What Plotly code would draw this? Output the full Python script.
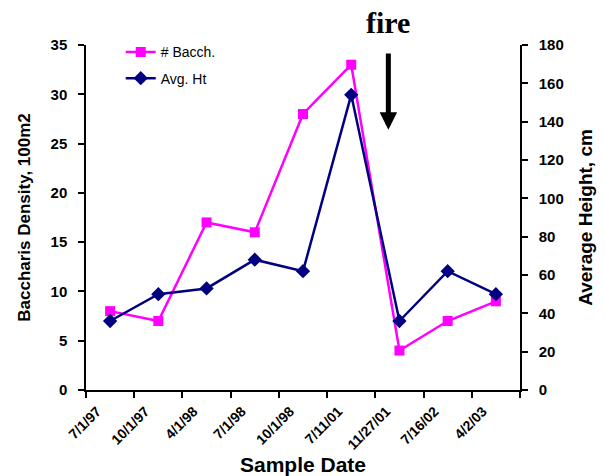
import plotly.graph_objects as go

dates = ["7/1/97", "10/1/97", "4/1/98", "7/1/98", "10/1/98", "7/11/01", "11/27/01", "7/16/02", "4/2/03"]
bacch = [8, 7, 17, 16, 28, 33, 4, 7, 9]
avg_ht = [36, 50, 53, 68, 62, 154, 36, 62, 50]

FONT = "Liberation Sans"
fig = go.Figure()
fig.add_trace(go.Scatter(x=dates, y=bacch, name="# Bacch.", mode="lines+markers", legendgroup="a",
                         line=dict(color="#FF00FF", width=2.5),
                         marker=dict(symbol="square", size=10, color="#FF00FF")))
fig.add_trace(go.Scatter(x=dates, y=avg_ht, name="Avg. Ht", mode="lines+markers", yaxis="y2",
                         legendgroup="b",
                         line=dict(color="#000080", width=2.5),
                         marker=dict(symbol="diamond", size=11, color="#000080")))

n = len(dates)
bounds = [i - 0.5 for i in range(n + 1)]

fig.update_layout(
    width=605, height=476,
    margin=dict(l=86, r=85, t=45, b=86),
    paper_bgcolor="white", plot_bgcolor="white",
    font=dict(family=FONT, color="black"),
    showlegend=True,
    legend=dict(x=0.08, y=1.025, xanchor="left", yanchor="top", bgcolor="rgba(0,0,0,0)",
                font=dict(size=14, family=FONT), tracegroupgap=5),
    xaxis=dict(type="category", range=[-0.5, n - 0.5], tickson="boundaries", automargin=False,
               ticks="outside", ticklen=6, tickwidth=1.5, tickcolor="black",
               showline=True, linecolor="black", linewidth=1.5, showgrid=False, zeroline=False,
               tickangle=-45, tickfont=dict(size=14, family=FONT, weight="bold"),
               ticklabelshift=-13, ticklabelstandoff=6,
               title=dict(text="<b>Sample Date</b>", font=dict(size=21, family=FONT), standoff=8)),
    xaxis3=dict(overlaying="x", anchor="y", side="bottom", range=[-0.5, n - 0.5], automargin=False,
                tickvals=bounds, ticks="inside", ticklen=6, tickwidth=1.5, tickcolor="black",
                showticklabels=False, showline=False, showgrid=False, zeroline=False),
    yaxis=dict(range=[0, 35], dtick=5, ticks="outside", ticklen=6, tickwidth=1.5, tickcolor="black",
               automargin=False,
               showline=True, linecolor="black", linewidth=1.5, showgrid=False, zeroline=False,
               tickfont=dict(size=15, family=FONT, weight="bold"), ticklabelstandoff=8,
               title=dict(text="<b>Baccharis Density, 100m2</b>", font=dict(size=17, family=FONT), standoff=16)),
    yaxis3=dict(overlaying="y", anchor="x", side="left", range=[0, 35], dtick=5, automargin=False,
                ticks="inside", ticklen=6, tickwidth=1.5, tickcolor="black",
                showticklabels=False, showline=False, showgrid=False, zeroline=False),
    yaxis2=dict(overlaying="y", side="right", anchor="x", range=[0, 180], dtick=20,
                automargin=False,
                ticks="outside", ticklen=6, tickwidth=1.5, tickcolor="black",
                showline=True, linecolor="black", linewidth=1.5, showgrid=False, zeroline=False,
                tickfont=dict(size=15, family=FONT, weight="bold"), ticklabelstandoff=8,
                title=dict(text="<b>Average Height, cm</b>", font=dict(size=19, family=FONT), standoff=16)),
    yaxis4=dict(overlaying="y", anchor="x", side="right", range=[0, 180], dtick=20, automargin=False,
                ticks="inside", ticklen=6, tickwidth=1.5, tickcolor="black",
                showticklabels=False, showline=False, showgrid=False, zeroline=False),
)

fig.add_annotation(x=5.77, xref="x", y=1.12, yref="paper", text="<b>fire</b>", showarrow=False,
                   font=dict(family="Liberation Serif", size=30, color="black"))
fig.add_annotation(x=5.77, xref="x", y=26.4, yref="y", ax=5.77, axref="x", ay=34.3, ayref="y",
                   text="", showarrow=True, arrowhead=2, arrowwidth=5, arrowsize=0.7,
                   arrowcolor="black")

fig.write_html("out.html")
